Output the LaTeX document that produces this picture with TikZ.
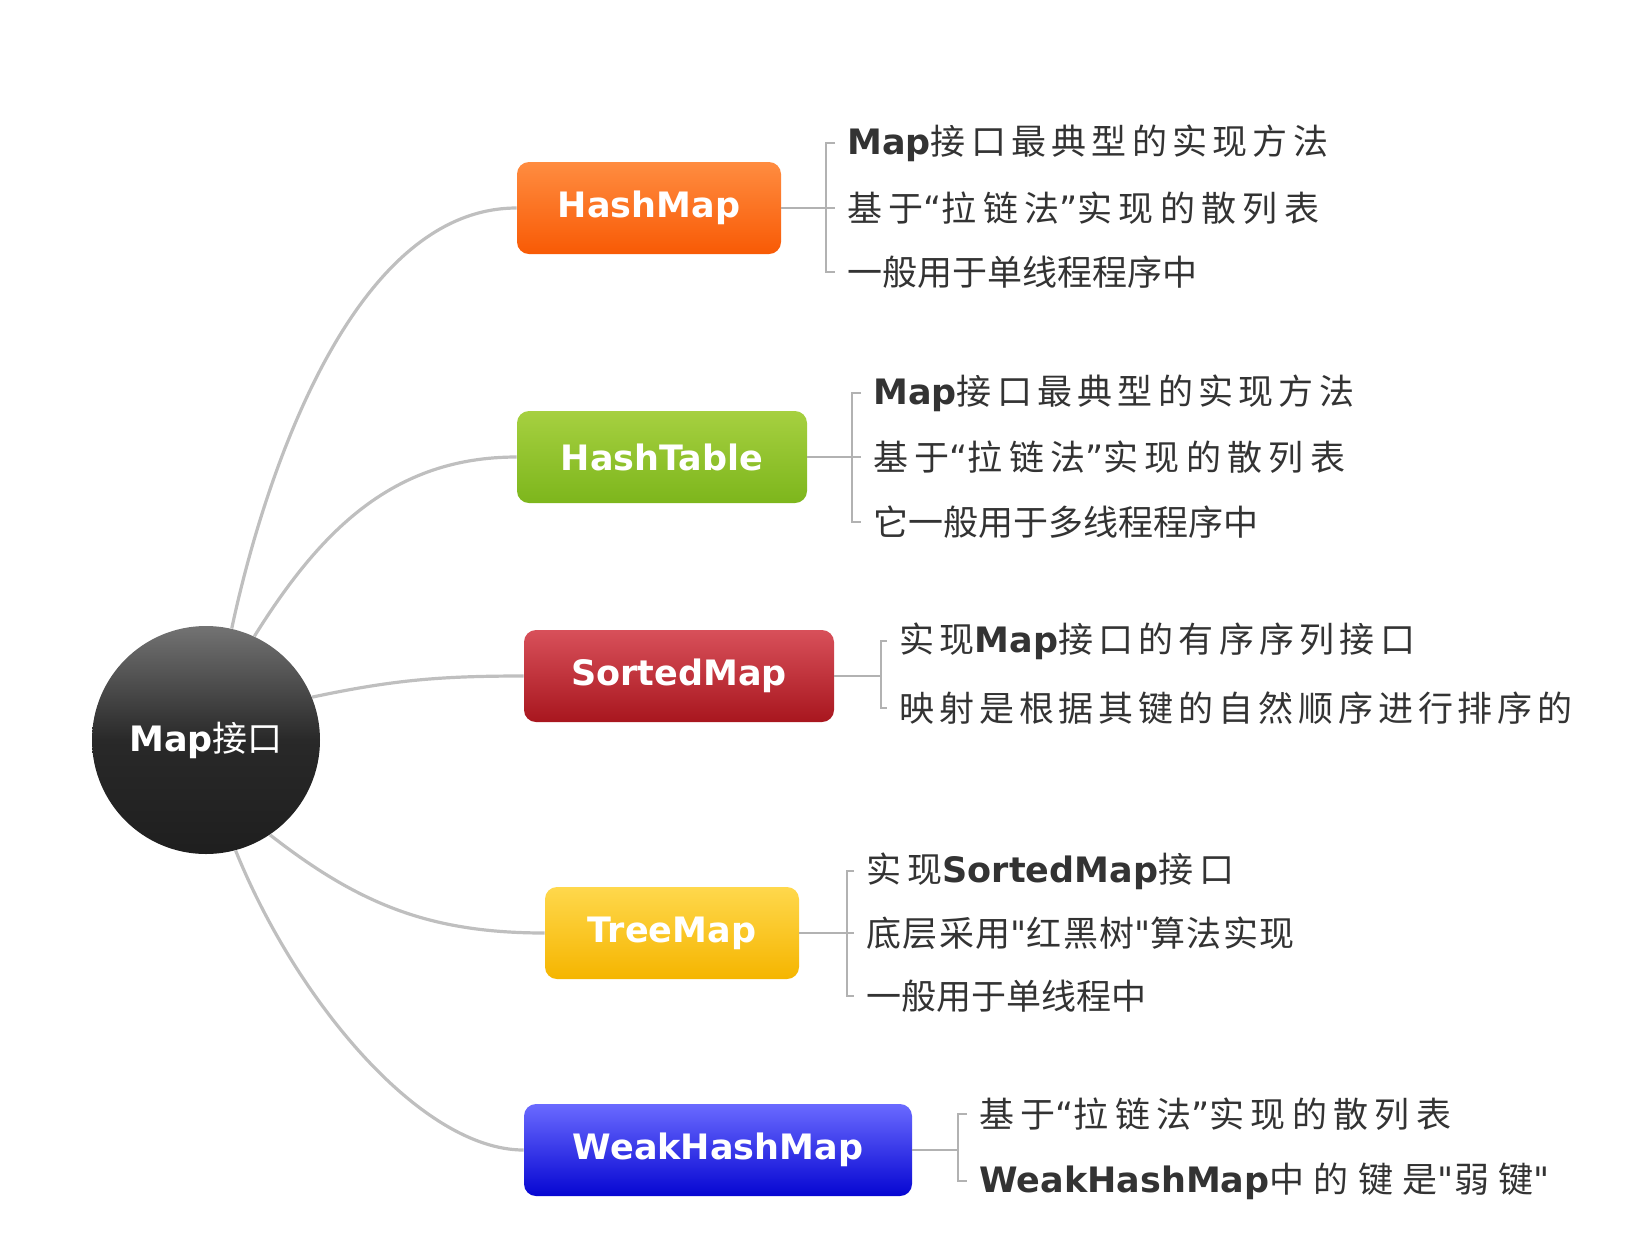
\documentclass[tikz,border=0pt]{standalone}
\usepackage{fontspec}
\setmainfont{Noto Sans CJK SC}
\newfontfamily\vfont{DejaVu Sans}
\newfontfamily\qfont[Ligatures=TeXOff]{DejaVu Sans}
\usepackage{tikz}
\usetikzlibrary{shapes}
\definecolor{hmtop}{HTML}{FF8C40}
\definecolor{hmbot}{HTML}{F85A05}
\definecolor{httop}{HTML}{A6D040}
\definecolor{htbot}{HTML}{7DB61C}
\definecolor{smtop}{HTML}{D8505A}
\definecolor{smbot}{HTML}{A8161E}
\definecolor{tmtop}{HTML}{FFD84C}
\definecolor{tmbot}{HTML}{F5B500}
\definecolor{whtop}{HTML}{6A6AFF}
\definecolor{whbot}{HTML}{0606D2}
\definecolor{notegray}{HTML}{333333}
\tikzstyle{hub}=[circle,inner sep=0pt,minimum size=114pt,text=white,top color=black!55,bottom color=black!88,middle color=black!84,font=\fontsize{17.5}{20}\selectfont]
\tikzstyle{topic}=[rounded corners=6pt,minimum height=46pt,text=white,font=\vfont\bfseries\fontsize{17.5}{20}\selectfont]
\tikzstyle{note}=[anchor=west,inner sep=0pt,text=notegray,font=\fontsize{17.5}{20}\selectfont]
\tikzstyle{branch}=[draw=black!25,line width=1.6pt]
\tikzstyle{twig}=[draw=black!30,line width=0.6pt]
\newcommand{\bmap}[1]{{\vfont\bfseries #1}}
\newcommand{\lsp}[2]{{\addfontfeatures{LetterSpace=#1}#2}}
\newcommand{\zlq}{{\qfont “}}
\newcommand{\zrq}{{\qfont ”}}
\newcommand{\zdq}{{\qfont "}}

\begin{document}
\begin{tikzpicture}[x=0.5pt,y=-0.5pt]
  \useasboundingbox (0,0) rectangle (1630,1244);
  \node[hub] (map) at (206,740) {\bmap{Map}接口};
  % branch boxes
  \node[topic,minimum width=132pt,top color=hmtop,bottom color=hmbot] (hm) at (649,208) {HashMap};
  \node[topic,minimum width=145pt,top color=httop,bottom color=htbot] (ht) at (662,457) {HashTable};
  \node[topic,minimum width=155pt,top color=smtop,bottom color=smbot] (sm) at (679,676) {SortedMap};
  \node[topic,minimum width=127pt,top color=tmtop,bottom color=tmbot] (tm) at (672,933) {TreeMap};
  \node[topic,minimum width=194pt,top color=whtop,bottom color=whbot] (wh) at (718,1150) {WeakHashMap};
  \draw[branch] (map.77) to[out=78,in=180,out looseness=0.7,in looseness=0.85] (hm.west);
  \draw[branch] (map.65) to[out=58,in=180] (ht.west);
  \draw[branch] (map.22) to[out=12,in=180] (sm.west);
  \draw[branch] (map.-56) to[out=-38,in=180] (tm.west);
  \draw[branch] (map.-75) to[out=-68,in=180,in looseness=0.63] (wh.west);
  % notes
  \node[note] (hm1) at (847,143) {\lsp{15}{\bmap{Map}接口最典型的实现方法}};
  \node[note] (hm2) at (847,208) {\lsp{18}{基于\zlq 拉链法\zrq 实现的散列表}};
  \node[note] (hm3) at (847,272) {一般用于单线程程序中};
  \node[note] (ht1) at (873,393) {\lsp{15}{\bmap{Map}接口最典型的实现方法}};
  \node[note] (ht2) at (873,457) {\lsp{18}{基于\zlq 拉链法\zrq 实现的散列表}};
  \node[note] (ht3) at (873,522) {它一般用于多线程程序中};
  \node[note] (sm1) at (899,641) {\lsp{15}{实现\bmap{Map}接口的有序序列接口}};
  \node[note] (sm2) at (899,708) {\lsp{14}{映射是根据其键的自然顺序进行排序的}};
  \node[note] (tm1) at (866,871) {\lsp{18}{实现\bmap{SortedMap}接口}};
  \node[note] (tm2) at (866,933) {\lsp{4}{底层采用\zdq 红黑树\zdq 算法实现}};
  \node[note] (tm3) at (866,996) {一般用于单线程中};
  \node[note] (wh1) at (979,1114) {\lsp{18}{基于\zlq 拉链法\zrq 实现的散列表}};
  \node[note] (wh2) at (979,1181) {\lsp{27}{\bmap{WeakHashMap}中的键是\zdq 弱键\zdq}};
  % brackets
  \coordinate (smb) at (881,676);
  \coordinate (whb) at (958,1150);
  \draw[twig] (hm.east) -- ([xshift=-6pt]hm2.west);
  \draw[twig] ([xshift=-6pt]hm1.west) -| (826,208) |- ([xshift=-6pt]hm3.west);
  \draw[twig] (ht.east) -- ([xshift=-6pt]ht2.west);
  \draw[twig] ([xshift=-6pt]ht1.west) -| (852,457) |- ([xshift=-6pt]ht3.west);
  \draw[twig] (sm.east) -- (smb);
  \draw[twig] ([xshift=-6pt]sm1.west) -| (smb) |- ([xshift=-6pt]sm2.west);
  \draw[twig] (tm.east) -- ([xshift=-6pt]tm2.west);
  \draw[twig] ([xshift=-6pt]tm1.west) -| (847,933) |- ([xshift=-6pt]tm3.west);
  \draw[twig] (wh.east) -- (whb);
  \draw[twig] ([xshift=-6pt]wh1.west) -| (whb) |- ([xshift=-6pt]wh2.west);
\end{tikzpicture}
\end{document}
